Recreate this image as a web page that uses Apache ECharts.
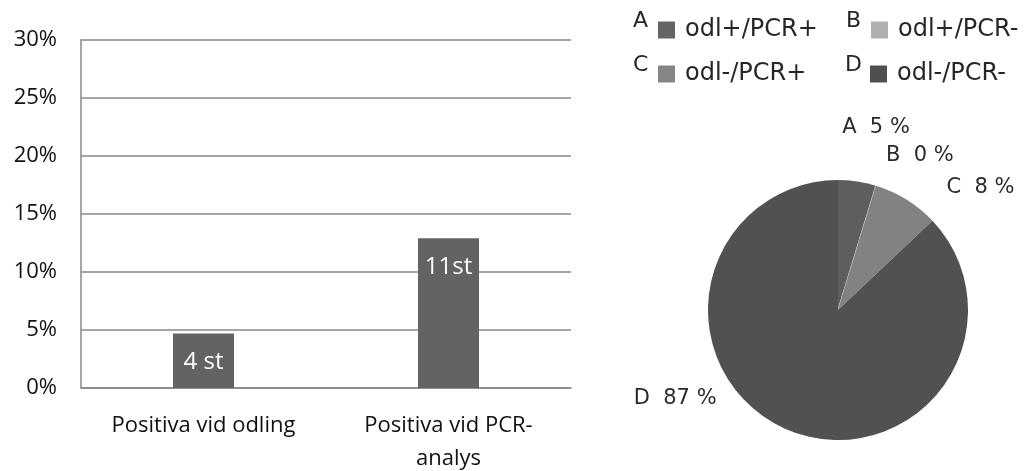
<!DOCTYPE html>
<html>
<head>
<meta charset="utf-8">
<script src="https://cdn.jsdelivr.net/npm/echarts@6/dist/echarts.min.js"></script>
<style>
  html, body { margin: 0; padding: 0; background: #fff; }
  #chart { width: 1036px; height: 471px; }
</style>
</head>
<body>
<div id="chart"></div>
<script>
// Bar chart: share of positive samples per method (%)
const barCategories = ['Positiva vid odling', 'Positiva vid PCR-\nanalys'];
const barShares = [4.7, 12.9];
const barLabels = ['4 st', '11st'];
const yTicks = { min: 0, max: 30, step: 5 };

// Pie chart: combination of culture (odl) and PCR results, counts
const pieLetters = ['A', 'B', 'C', 'D'];
const pieNames = ['odl+/PCR+', 'odl+/PCR-', 'odl-/PCR+', 'odl-/PCR-'];
const pieCounts = [4, 0, 7, 74];

const pieColors = ['#5e5e5e', '#b0b0b0', '#828282', '#515151'];
const legendColors = ['#646464', '#b0b0b0', '#858585', '#4f4f4f'];
// nudges for each pie label away from its default outside spot
const pieLabelShift = [[-20, -54], [5, -30], [35, -12], [-65, -31]];

const legendRich = {
  l: { fontFamily: 'DejaVu Sans', fontSize: 22, color: '#262626', width: 25, lineHeight: 12, padding: [0, 0, 18, 0] },
  g: { width: 10, fontSize: 10 },
  t: { fontFamily: 'DejaVu Sans', fontSize: 24, color: '#262626', width: 151, lineHeight: 30 }
};
legendColors.forEach((c, i) => {
  legendRich['s' + i] = { width: 17, height: 17, backgroundColor: c, fontSize: 10 };
});

const chart = echarts.init(document.getElementById('chart'), null, { renderer: 'canvas' });

chart.setOption({
  animation: false,
  backgroundColor: '#ffffff',
  grid: { left: 81, right: 465, top: 40, bottom: 83, containLabel: false, outerBoundsMode: 'none' },
  xAxis: {
    type: 'category',
    data: barCategories,
    axisLine: { lineStyle: { color: '#888888', width: 1.5 } },
    axisTick: { show: false },
    axisLabel: {
      fontFamily: 'Open Sans',
      fontSize: 22,
      color: '#111111',
      margin: 21,
      lineHeight: 33,
      verticalAlign: 'top'
    }
  },
  yAxis: {
    type: 'value',
    min: yTicks.min,
    max: yTicks.max,
    interval: yTicks.step,
    axisLine: { show: true, lineStyle: { color: '#888888', width: 1.5 } },
    axisTick: { show: false },
    splitLine: { lineStyle: { color: '#888888', width: 1.5 } },
    axisLabel: {
      formatter: '{value}%',
      fontFamily: 'Open Sans',
      fontSize: 22,
      color: '#111111',
      margin: 24
    }
  },
  legend: {
    left: 628,
    top: 10,
    width: 440,
    padding: 0,
    itemGap: 4,
    itemWidth: 0,
    itemHeight: 0,
    icon: 'rect',
    selectedMode: false,
    data: pieNames,
    formatter: function (name) {
      const i = pieNames.indexOf(name);
      return '{l|' + pieLetters[i] + '}{s' + i + '| }{g| }{t|' + name + '}';
    },
    textStyle: { rich: legendRich }
  },
  series: [
    {
      type: 'bar',
      data: barShares,
      barWidth: 61,
      itemStyle: { color: '#636363' },
      label: {
        show: true,
        position: 'insideTop',
        distance: 17,
        fontFamily: 'Open Sans',
        fontSize: 24,
        color: '#ffffff',
        formatter: p => barLabels[p.dataIndex]
      }
    },
    {
      type: 'pie',
      center: [838, 310],
      radius: 130,
      startAngle: 90,
      clockwise: true,
      avoidLabelOverlap: false,
      color: pieColors,
      itemStyle: { borderWidth: 0 },
      label: {
        show: true,
        position: 'outside',
        fontFamily: 'DejaVu Sans',
        fontSize: 21,
        color: '#2b2b2b',
        formatter: p => pieLetters[p.dataIndex] + '  ' + p.percent + ' %'
      },
      percentPrecision: 0,
      labelLine: { show: false, length: 0, length2: 0 },
      labelLayout: p => ({ dx: pieLabelShift[p.dataIndex][0], dy: pieLabelShift[p.dataIndex][1] }),
      data: pieNames.map((n, i) => ({
        name: n,
        value: pieCounts[i],
        itemStyle: i === 1 ? { borderColor: '#c8c8c8', borderWidth: 1 } : undefined
      }))
    }
  ]
});
</script>
</body>
</html>
